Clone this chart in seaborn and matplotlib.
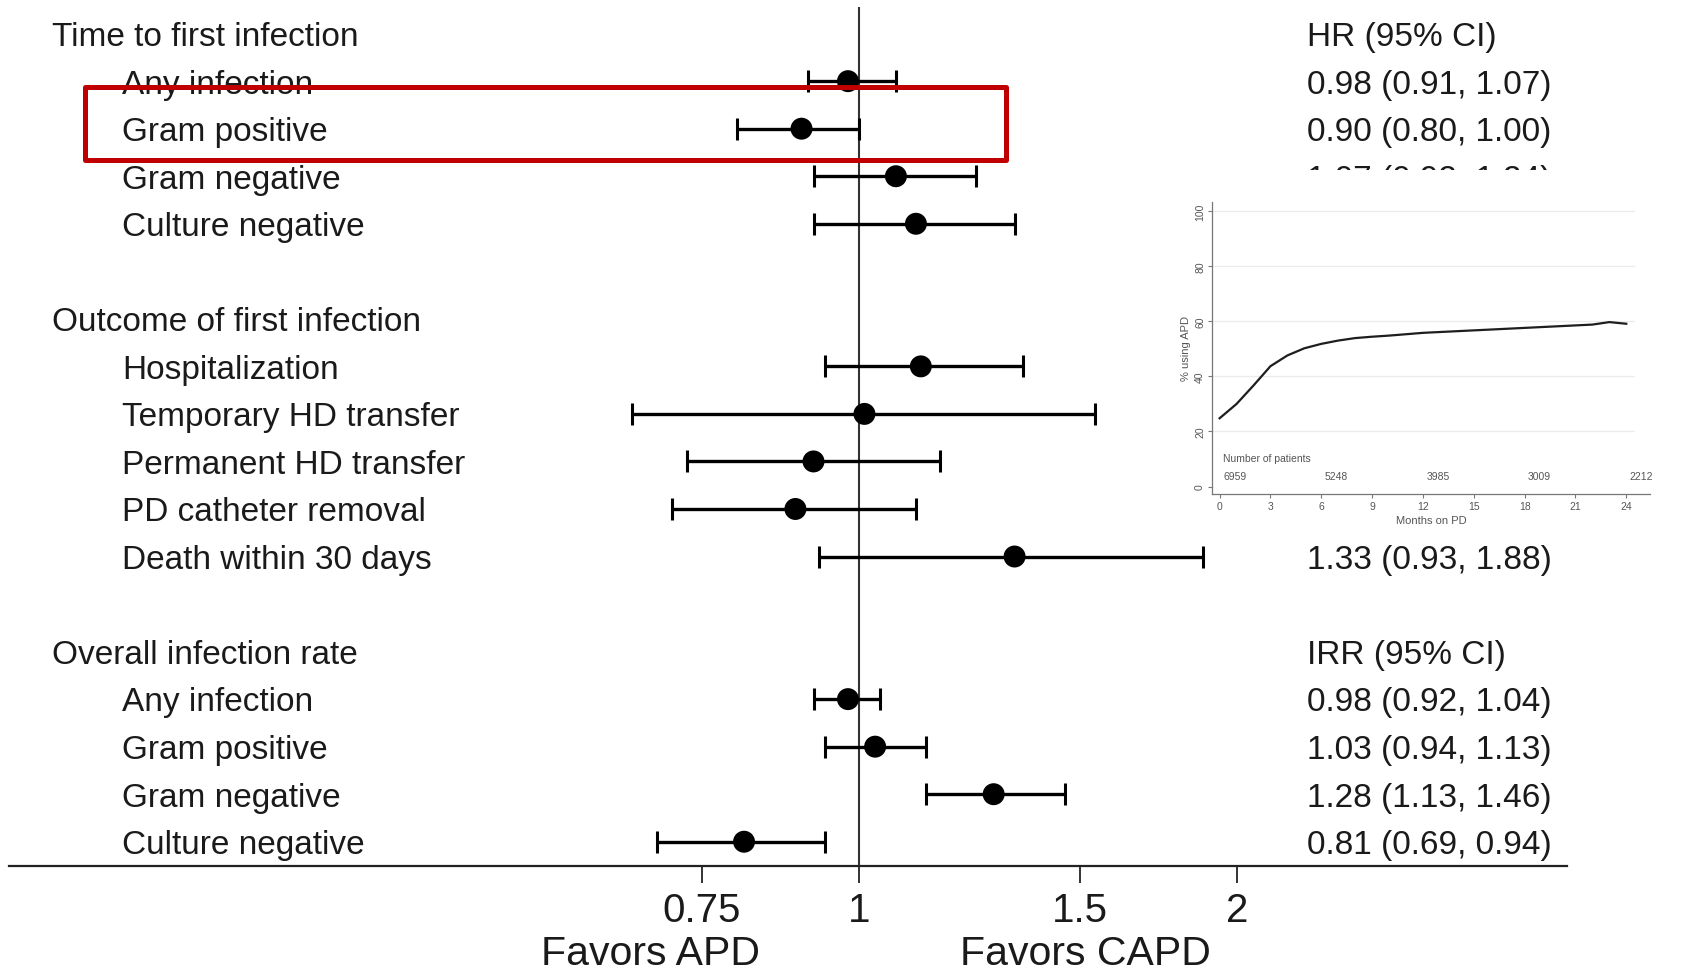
import numpy as np
import pandas as pd
import matplotlib
matplotlib.use("Agg")
import matplotlib.pyplot as plt
from matplotlib.patches import Rectangle
import matplotlib.transforms as mtransforms
import seaborn as sns

# ---- forest plot data -------------------------------------------------
section_titles = ["Time to first infection", "Outcome of first infection", "Overall infection rate"]
column_titles = ["HR (95% CI)", None, "IRR (95% CI)"]

time_items = ["Any infection", "Gram positive", "Gram negative", "Culture negative"]
time_est = [0.98, 0.90, 1.07, 1.11]
time_lo = [0.91, 0.80, 0.92, 0.92]
time_hi = [1.07, 1.00, 1.24, 1.33]

outcome_items = ["Hospitalization", "Temporary HD transfer", "Permanent HD transfer",
                 "PD catheter removal", "Death within 30 days"]
outcome_est = [1.12, 1.01, 0.92, 0.89, 1.33]
outcome_lo = [0.94, 0.66, 0.73, 0.71, 0.93]
outcome_hi = [1.35, 1.54, 1.16, 1.11, 1.88]

rate_items = ["Any infection", "Gram positive", "Gram negative", "Culture negative"]
rate_est = [0.98, 1.03, 1.28, 0.81]
rate_lo = [0.92, 0.94, 1.13, 0.69]
rate_hi = [1.04, 1.13, 1.46, 0.94]

x_ticks = [0.75, 1, 1.5, 2]
x_ticklabels = ["0.75", "1", "1.5", "2"]

# ---- inset data: share of patients on APD ------------------------------
inset_months = [0, 1, 2, 3, 4, 5, 6, 7, 8, 9, 10, 12, 15, 18, 21, 22, 23, 24]
inset_pct = [24.8, 30.0, 36.7, 43.7, 47.6, 50.2, 51.8, 53.0, 53.9, 54.4, 54.8,
             55.8, 56.7, 57.6, 58.5, 58.8, 59.7, 59.1]
risk_months = [0, 6, 12, 18, 24]
risk_counts = ["6959", "5248", "3985", "3009", "2212"]

# ---- build row table ---------------------------------------------------
rows = []
y = 0
sections = [(time_items, time_est, time_lo, time_hi),
            (outcome_items, outcome_est, outcome_lo, outcome_hi),
            (rate_items, rate_est, rate_lo, rate_hi)]
for title, coltitle, (items, est, lo, hi) in zip(section_titles, column_titles, sections):
    rows.append(dict(label=title, y=y, kind="header", col=coltitle,
                     est=np.nan, lo=np.nan, hi=np.nan))
    y -= 1
    for it, e, l, h in zip(items, est, lo, hi):
        rows.append(dict(label=it, y=y, kind="item", col=None, est=e, lo=l, hi=h))
        y -= 1
    y -= 1
df = pd.DataFrame(rows)
pts = df[df.kind == "item"].reset_index(drop=True)

# ---- figure --------------------------------------------------------------
W, H = 1694, 970
plt.rcParams["font.family"] = ["Liberation Sans", "DejaVu Sans"]
fig = plt.figure(figsize=(W / 100, H / 100), dpi=100)
fig.patch.set_facecolor("white")

def fx(px):
    return px / W

def fy(py):
    return 1 - py / H

ax_l, ax_r, ax_t, ax_b = 8.6, 1567, 8, 866.5
ax = fig.add_axes([fx(ax_l), fy(ax_b), (ax_r - ax_l) / W, (ax_b - ax_t) / H])
ax.set_facecolor("white")
ax.set_xscale("log")
ax.set_xlim(0.2104, 3.661)
ax.set_ylim(-17.5, 0.56)

txt_color = "#1a1a1a"
ax.axvline(1, color="#333333", lw=1.5, zorder=2)

ax.errorbar(pts["est"], pts["y"], xerr=[pts["est"] - pts["lo"], pts["hi"] - pts["est"]],
            fmt="none", ecolor="black", elinewidth=2.4, capsize=8, capthick=2.2, zorder=3)
sns.scatterplot(data=pts, x="est", y="y", ax=ax, s=250, color="black",
                edgecolor="none", zorder=4, legend=False)

trans = mtransforms.blended_transform_factory(ax.transAxes, ax.transData)
label_fs = 24
text_dy = -0.06  # small downward nudge so glyphs sit on the row centre
ci_texts = []
for _, r in df.iterrows():
    xpos = 0.0278 if r["kind"] == "header" else 0.0728
    ty = r["y"] + text_dy
    ax.text(xpos, ty, r["label"], transform=trans, fontsize=label_fs,
            color=txt_color, va="center", ha="left")
    if r["kind"] == "header" and r["col"]:
        ax.text(0.833, ty, r["col"], transform=trans, fontsize=label_fs,
                color=txt_color, va="center", ha="left")
    if r["kind"] == "item":
        ci_texts.append(ax.text(0.833, ty, f"{r['est']:.2f} ({r['lo']:.2f}, {r['hi']:.2f})",
                                transform=trans, fontsize=label_fs, color=txt_color,
                                va="center", ha="left"))

for s in ["top", "right", "left"]:
    ax.spines[s].set_visible(False)
ax.spines["bottom"].set_linewidth(1.6)
ax.spines["bottom"].set_color("#222222")
ax.set_yticks([])
ax.set_xticks(x_ticks)
ax.set_xticklabels(x_ticklabels)
ax.xaxis.set_minor_locator(matplotlib.ticker.NullLocator())
ax.tick_params(axis="x", length=12, width=1.3, labelsize=29, pad=6,
               colors="#222222", labelcolor=txt_color)
ax.set_xlabel("")
ax.set_ylabel("")

fig.text(fx(650), fy(954), "Favors APD", fontsize=29.5, ha="center", va="center", color=txt_color)
fig.text(fx(1085), fy(954), "Favors CAPD", fontsize=29.5, ha="center", va="center", color=txt_color)

# highlight box around the gram positive row
fig.patches.append(Rectangle((fx(84.5), fy(160.5)), fx(1005.5) - fx(84.5), fy(87.5) - fy(160.5),
                             transform=fig.transFigure, fill=False, edgecolor="#c00000",
                             lw=3.6, joinstyle="round", zorder=5))

# white panel behind the inset
panel_px = (1161, 171, 1694, 538)  # left, top, right, bottom
fig.patches.append(Rectangle((fx(panel_px[0]), fy(panel_px[3])),
                             fx(panel_px[2]) - fx(panel_px[0]), fy(panel_px[1]) - fy(panel_px[3]),
                             transform=fig.transFigure, facecolor="white",
                             edgecolor="none", zorder=1))

# estimate texts lying completely under the panel would never be seen
fig.canvas.draw()
renderer = fig.canvas.get_renderer()
for t in ci_texts:
    bb = t.get_window_extent(renderer)
    if (bb.x0 >= panel_px[0] and bb.x1 <= panel_px[2]
            and bb.y0 >= H - panel_px[3] and bb.y1 <= H - panel_px[1]):
        t.remove()

# ---- inset: APD use over time -------------------------------------------
in_l, in_r, in_t, in_b = 1212, 1650, 203, 495
axi = fig.add_axes([fx(in_l), fy(in_b), (in_r - in_l) / W, (in_b - in_t) / H], zorder=3)
axi.set_facecolor("none")
axi.set_xlim(-0.45, 25.4)
axi.set_ylim(-2.7, 103.3)
for g in [20, 40, 60, 80, 100]:
    axi.plot([-0.45, 24.45], [g, g], color="#ebebeb", lw=0.9, zorder=1)
sns.lineplot(x=inset_months, y=inset_pct, ax=axi, color="#1e1e1e", lw=1.6, zorder=3)
inset_c = "#555555"
axi.text(0.2, 10.5, "Number of patients", fontsize=7.5, color=inset_c, ha="left", va="center")
for m, c in zip(risk_months, risk_counts):
    axi.text(m + 0.2, 4.0, c, fontsize=7.5, color=inset_c, ha="left", va="center")
for s in ["top", "right"]:
    axi.spines[s].set_visible(False)
for s in ["left", "bottom"]:
    axi.spines[s].set_color("#777777")
    axi.spines[s].set_linewidth(0.9)
axi.set_xticks(range(0, 25, 3))
axi.set_yticks(range(0, 101, 20))
axi.tick_params(axis="both", labelsize=7.5, colors="#777777", labelcolor=inset_c,
                length=3, width=0.8, pad=2)
plt.setp(axi.get_yticklabels(), rotation=90, va="center")
axi.set_xlabel("Months on PD", fontsize=8, color=inset_c, labelpad=3)
axi.set_ylabel("% using APD", fontsize=8, color=inset_c, labelpad=3)

fig.savefig("out.png", dpi=100, facecolor="white")
